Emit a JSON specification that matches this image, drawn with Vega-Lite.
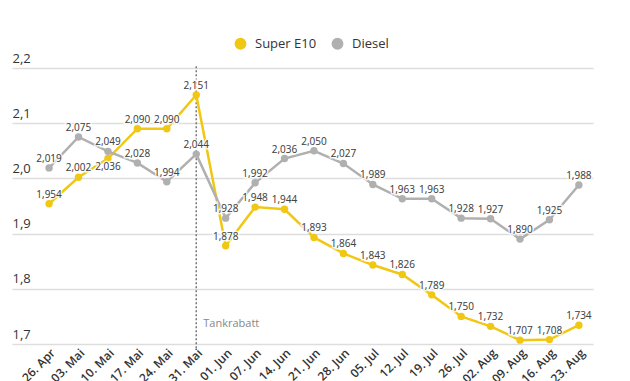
{
  "$schema": "https://vega.github.io/schema/vega-lite/v6.json",
  "width": 581,
  "height": 276,
  "autosize": {"type": "none"},
  "padding": {"left": 12, "top": 68, "right": 37, "bottom": 37},
  "background": "white",
  "title": {"text": "Kraftstoffpreise im Wochenvergleich in Euro/Liter", "anchor": "start", "frame": "group", "dx": 15, "offset": 46, "fontSize": 14, "fontWeight": "bold", "color": "#222", "font": "Open Sans"},
  "config": {
    "locale": {"number": {"decimal": ",", "thousands": ".", "grouping": [3], "currency": ["", " €"]}},
    "view": {"stroke": null},
    "font": "Open Sans"
  },
  "data": {"values": [
    {"date": "26. Apr", "fuel": "Super E10", "price": 1.954},
    {"date": "03. Mai", "fuel": "Super E10", "price": 2.002},
    {"date": "10. Mai", "fuel": "Super E10", "price": 2.036},
    {"date": "17. Mai", "fuel": "Super E10", "price": 2.090},
    {"date": "24. Mai", "fuel": "Super E10", "price": 2.090},
    {"date": "31. Mai", "fuel": "Super E10", "price": 2.151},
    {"date": "01. Jun", "fuel": "Super E10", "price": 1.878},
    {"date": "07. Jun", "fuel": "Super E10", "price": 1.948},
    {"date": "14. Jun", "fuel": "Super E10", "price": 1.944},
    {"date": "21. Jun", "fuel": "Super E10", "price": 1.893},
    {"date": "28. Jun", "fuel": "Super E10", "price": 1.864},
    {"date": "05. Jul", "fuel": "Super E10", "price": 1.843},
    {"date": "12. Jul", "fuel": "Super E10", "price": 1.826},
    {"date": "19. Jul", "fuel": "Super E10", "price": 1.789},
    {"date": "26. Jul", "fuel": "Super E10", "price": 1.750},
    {"date": "02. Aug", "fuel": "Super E10", "price": 1.732},
    {"date": "09. Aug", "fuel": "Super E10", "price": 1.707},
    {"date": "16. Aug", "fuel": "Super E10", "price": 1.708},
    {"date": "23. Aug", "fuel": "Super E10", "price": 1.734},
    {"date": "26. Apr", "fuel": "Diesel", "price": 2.019},
    {"date": "03. Mai", "fuel": "Diesel", "price": 2.075},
    {"date": "10. Mai", "fuel": "Diesel", "price": 2.049},
    {"date": "17. Mai", "fuel": "Diesel", "price": 2.028},
    {"date": "24. Mai", "fuel": "Diesel", "price": 1.994},
    {"date": "31. Mai", "fuel": "Diesel", "price": 2.044},
    {"date": "01. Jun", "fuel": "Diesel", "price": 1.928},
    {"date": "07. Jun", "fuel": "Diesel", "price": 1.992},
    {"date": "14. Jun", "fuel": "Diesel", "price": 2.036},
    {"date": "21. Jun", "fuel": "Diesel", "price": 2.050},
    {"date": "28. Jun", "fuel": "Diesel", "price": 2.027},
    {"date": "05. Jul", "fuel": "Diesel", "price": 1.989},
    {"date": "12. Jul", "fuel": "Diesel", "price": 1.963},
    {"date": "19. Jul", "fuel": "Diesel", "price": 1.963},
    {"date": "26. Jul", "fuel": "Diesel", "price": 1.928},
    {"date": "02. Aug", "fuel": "Diesel", "price": 1.927},
    {"date": "09. Aug", "fuel": "Diesel", "price": 1.890},
    {"date": "16. Aug", "fuel": "Diesel", "price": 1.925},
    {"date": "23. Aug", "fuel": "Diesel", "price": 1.988}
  ]},
  "encoding": {
    "x": {"field": "date", "type": "ordinal", "sort": null,
      "scale": {"type": "point", "padding": 0.87, "align": 0.724,
        "domain": ["26. Apr", "03. Mai", "10. Mai", "17. Mai", "24. Mai", "31. Mai", "01. Jun", "07. Jun", "14. Jun", "21. Jun", "28. Jun", "05. Jul", "12. Jul", "19. Jul", "26. Jul", "02. Aug", "09. Aug", "16. Aug", "23. Aug"]},
      "axis": {"title": null, "domain": false, "ticks": false, "labelAngle": -45, "labelAlign": "right", "labelBaseline": "top", "labelPadding": 3, "labelFontSize": 12, "labelColor": "#333", "labelFont": "Open Sans", "labelFontWeight": 600}},
    "y": {"field": "price", "type": "quantitative",
      "scale": {"domain": [1.7, 2.2], "nice": false, "zero": false},
      "axis": {"title": null, "domain": false, "ticks": false, "values": [1.7, 1.8, 1.9, 2.0, 2.1, 2.2], "format": ".1f", "labelAlign": "left", "labelBaseline": "bottom", "labelPadding": 0, "labelOffset": -3, "labelFontSize": 13, "labelColor": "#333", "labelFont": "Open Sans", "gridColor": "#dddddd", "gridWidth": 1.5}}
  },
  "layer": [
    {
      "transform": [{"filter": "datum.fuel == 'Diesel' && datum.date == '31. Mai'"}],
      "mark": {"type": "rule", "strokeDash": [2, 2], "color": "#777", "strokeWidth": 1.5},
      "encoding": {"y": {"datum": 2.203}, "y2": {"datum": 1.69}}
    },
    {
      "transform": [{"filter": "datum.fuel == 'Diesel' && datum.date == '31. Mai'"}],
      "mark": {"type": "text", "align": "left", "baseline": "middle", "dx": 7, "fontSize": 11, "color": "#888", "font": "Open Sans"},
      "encoding": {"y": {"datum": 1.736}, "text": {"value": "Tankrabatt"}}
    },
    {
      "mark": {"type": "line", "strokeWidth": 2.5},
      "encoding": {"color": {"field": "fuel", "type": "nominal", "scale": {"domain": ["Super E10", "Diesel"], "range": ["#f0c814", "#b0b0b0"]},
        "legend": {"title": null, "orient": "none", "direction": "horizontal", "legendX": 222, "legendY": -31, "symbolType": "circle", "symbolSize": 140, "symbolStrokeWidth": 0, "symbolOpacity": 1, "labelFontSize": 13, "labelColor": "#333", "labelFont": "Open Sans", "columnPadding": 14, "labelOffset": 8}}}
    },
    {
      "mark": {"type": "point", "filled": true, "size": 55, "opacity": 1},
      "encoding": {"color": {"field": "fuel", "type": "nominal",
        "legend": {"title": null, "orient": "none", "direction": "horizontal", "legendX": 222, "legendY": -31, "symbolType": "circle", "symbolSize": 140, "symbolStrokeWidth": 0, "symbolOpacity": 1, "labelFontSize": 13, "labelColor": "#333", "labelFont": "Open Sans", "columnPadding": 14, "labelOffset": 8}}}
    },
    {
      "transform": [{"filter": "!(datum.fuel == 'Super E10' && datum.date == '10. Mai')"}],
      "mark": {"type": "text", "baseline": "bottom", "dy": -4, "fontSize": 10, "color": "#444", "font": "Open Sans", "stroke": "white", "strokeWidth": 3, "strokeOpacity": 0.8},
      "encoding": {"text": {"field": "price", "type": "quantitative", "format": ".3f"}}
    },
    {
      "transform": [{"filter": "!(datum.fuel == 'Super E10' && datum.date == '10. Mai')"}],
      "mark": {"type": "text", "baseline": "bottom", "dy": -4, "fontSize": 10, "color": "#444", "font": "Open Sans"},
      "encoding": {"text": {"field": "price", "type": "quantitative", "format": ".3f"}}
    },
    {
      "transform": [{"filter": "datum.fuel == 'Super E10' && datum.date == '10. Mai'"}],
      "mark": {"type": "text", "baseline": "top", "dy": 3, "fontSize": 10, "color": "#444", "font": "Open Sans", "stroke": "white", "strokeWidth": 3, "strokeOpacity": 0.8},
      "encoding": {"text": {"field": "price", "type": "quantitative", "format": ".3f"}}
    },
    {
      "transform": [{"filter": "datum.fuel == 'Super E10' && datum.date == '10. Mai'"}],
      "mark": {"type": "text", "baseline": "top", "dy": 3, "fontSize": 10, "color": "#444", "font": "Open Sans"},
      "encoding": {"text": {"field": "price", "type": "quantitative", "format": ".3f"}}
    }
  ]
}
